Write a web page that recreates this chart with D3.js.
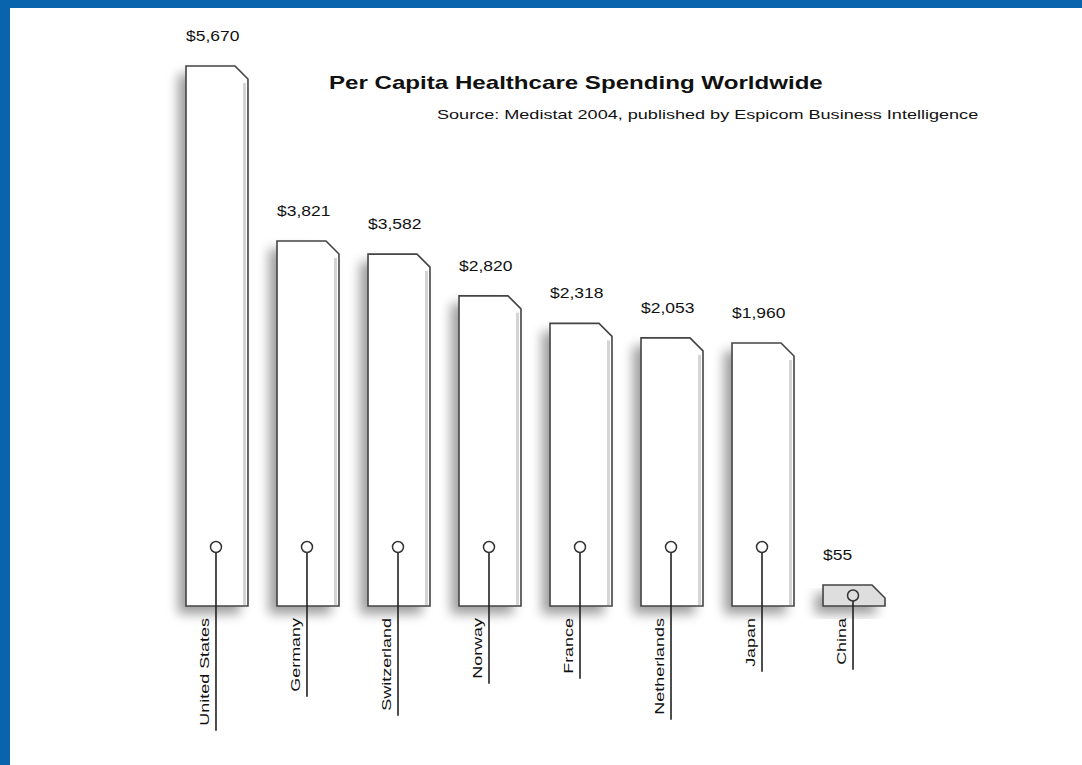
<!DOCTYPE html>
<html>
<head>
<meta charset="utf-8">
<script src="https://cdn.jsdelivr.net/npm/d3@7"></script>
<style>
  html, body { margin: 0; padding: 0; background: #ffffff; overflow: hidden; }
  svg { display: block; }
  text { font-family: "Liberation Sans", Arial, Helvetica, sans-serif; fill: #111; }
</style>
</head>
<body>
<script>
// ---- data ----
const categories = ["United States", "Germany", "Switzerland", "Norway", "France", "Netherlands", "Japan", "China"];
const spending = [5670, 3821, 3582, 2820, 2318, 2053, 1960, 55];
const title = "Per Capita Healthcare Spending Worldwide";
const subtitle = "Source:  Medistat 2004, published by Espicom Business Intelligence";
// the printed chart uses a broken (non-proportional) value axis; these are its break values
const scaleBreaks = [0, 55, 1960, 3821, 5670];
const breakHeights = [0, 21, 263, 365, 540];

const W = 1082, H = 765;
const svg = d3.select("body").append("svg").attr("width", W).attr("height", H);

// frame: white page with blue top and left border
svg.append("rect").attr("width", W).attr("height", H).attr("fill", "#ffffff");
svg.append("rect").attr("x", 0).attr("y", 0).attr("width", W).attr("height", 8).attr("fill", "#0a64ad");
svg.append("rect").attr("x", 0).attr("y", 0).attr("width", 10).attr("height", H).attr("fill", "#0a64ad");

const defs = svg.append("defs");
const f = defs.append("filter").attr("id", "shadow").attr("x", "-50%").attr("y", "-20%").attr("width", "200%").attr("height", "140%");
f.append("feGaussianBlur").attr("stdDeviation", 6);

const baseY = 606;
const x = d3.scaleBand().domain(categories).range([186, 885]).paddingInner(0.319).paddingOuter(0);
const h = d3.scaleLinear().domain(scaleBreaks).range(breakHeights);
const bw = x.bandwidth();
const cut = 13;

const data = categories.map((c, i) => ({ cat: c, val: spending[i] }));

function barPath(d) {
  const x0 = x(d.cat), x1 = x0 + bw, top = baseY - h(d.val);
  const c = Math.min(cut, (baseY - top) * 0.7);
  return `M${x0},${baseY}L${x0},${top}L${x1 - cut},${top}L${x1},${top + c}L${x1},${baseY}Z`;
}

const g = svg.append("g");

// shadows
g.selectAll(".shadow").data(data).join("path")
  .attr("class", "shadow")
  .attr("d", barPath)
  .attr("transform", "translate(-8,8)")
  .attr("fill", "#000")
  .attr("opacity", 0.38)
  .attr("filter", "url(#shadow)");

// bars
g.selectAll(".bar").data(data).join("path")
  .attr("class", "bar")
  .attr("d", barPath)
  .attr("fill", d => d.val < 100 ? "#dedede" : "#ffffff")
  .attr("stroke", "#444")
  .attr("stroke-width", 1.6)
  .attr("stroke-linejoin", "miter");

// inner right edge shading
g.selectAll(".edge").data(data.filter(d => d.val > 100)).join("line")
  .attr("x1", d => x(d.cat) + bw - 3.5).attr("x2", d => x(d.cat) + bw - 3.5)
  .attr("y1", d => baseY - h(d.val) + cut + 4).attr("y2", baseY - 1)
  .attr("stroke", "#d4d4d4").attr("stroke-width", 3);

// value labels
const fmt = d3.format("$,");
g.selectAll(".val").data(data).join("text")
  .attr("transform", d => `translate(${x(d.cat)},${baseY - h(d.val) - 25}) scale(1.25,1)`)
  .attr("font-size", 14)
  .text(d => fmt(d.val));

// country labels, leader lines, circles
const labelTop = 618;
const labelStretch = 1.38;
const items = g.selectAll(".item").data(data).join("g");
items.each(function (d) {
  const sel = d3.select(this);
  const lx = x(d.cat) + bw / 2 - 1;
  const top = baseY - h(d.val);
  const cy = Math.max(547, (top + baseY) / 2);
  const t = sel.append("text")
    .attr("font-size", 13)
    .attr("text-anchor", "end")
    .attr("transform", `translate(${lx - 7},${labelTop}) rotate(-90) scale(${labelStretch},1)`)
    .text(d.cat);
  const len = t.node().getComputedTextLength() * labelStretch;
  sel.insert("line", "text")
    .attr("x1", lx).attr("x2", lx)
    .attr("y1", cy + 5.5).attr("y2", labelTop + len + 5)
    .attr("stroke", "#222").attr("stroke-width", 1.6);
  sel.append("circle")
    .attr("cx", lx).attr("cy", cy).attr("r", 5.5)
    .attr("fill", d.val < 100 ? "#dedede" : "#fff")
    .attr("stroke", "#333").attr("stroke-width", 1.5);
});

// titles
svg.append("text")
  .attr("transform", "translate(329,89) scale(1.34,1)")
  .attr("font-size", 18).attr("font-weight", "bold")
  .text(title);
svg.append("text")
  .attr("transform", "translate(437,119) scale(1.39,1)")
  .attr("font-size", 13)
  .text(subtitle);
</script>
</body>
</html>
